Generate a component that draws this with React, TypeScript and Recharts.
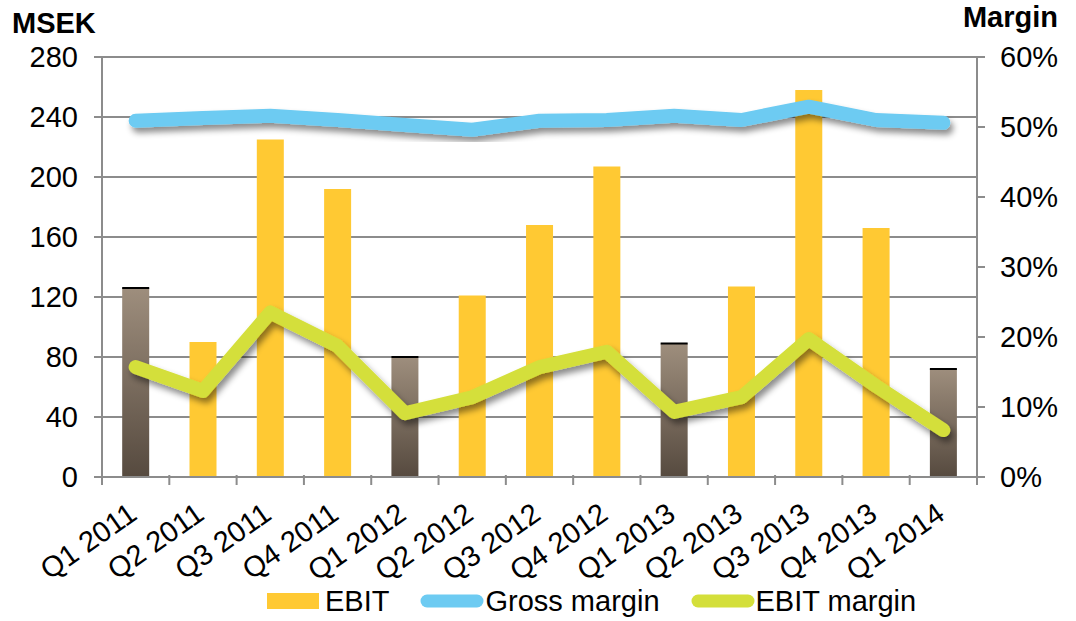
import React from 'react';
import { ComposedChart, Bar, Line, XAxis, YAxis, CartesianGrid, Legend } from 'recharts';

const categories = ['Q1 2011', 'Q2 2011', 'Q3 2011', 'Q4 2011', 'Q1 2012', 'Q2 2012', 'Q3 2012', 'Q4 2012', 'Q1 2013', 'Q2 2013', 'Q3 2013', 'Q4 2013', 'Q1 2014'];
const ebit = [126, 90, 225, 192, 80, 121, 168, 207, 89, 127, 258, 166, 72];
const grossMargin = [50.9, 51.3, 51.6, 51.0, 50.3, 49.6, 50.9, 51.0, 51.6, 51.0, 52.9, 51.0, 50.6];
const ebitMargin = [15.7, 12.3, 23.5, 18.7, 9.1, 11.4, 15.7, 17.9, 9.3, 11.4, 19.7, 13.0, 6.7];
const leftTicks = [0, 40, 80, 120, 160, 200, 240, 280];
const rightTicks = [0, 10, 20, 30, 40, 50, 60];

const data = categories.map((c, i) => ({
  quarter: c,
  ebit: ebit[i],
  gross: grossMargin[i],
  ebitMargin: ebitMargin[i],
}));

const W = 1076;
const H = 621;
const PLOT_LEFT = 102;
const PLOT_RIGHT = 977;
const BAND = (PLOT_RIGHT - PLOT_LEFT) / categories.length;
const FONT = '"Liberation Sans", Arial, Helvetica, sans-serif';
const FS = 29;
const YELLOW = '#FFC933';
const BLUE = '#6DCBF2';
const GREEN = '#D4DF3A';
const GRID = '#8C8C8C';

const XTick = (props: any) => {
  const { x, y, payload, index } = props;
  const axisY = y - 8;
  const isLast = index === categories.length - 1;
  return (
    <g>
      <line x1={x - BAND / 2} y1={axisY - 2} x2={x - BAND / 2} y2={axisY + 8} stroke={GRID} strokeWidth={2} />
      {isLast && <line x1={x + BAND / 2} y1={axisY - 2} x2={x + BAND / 2} y2={axisY + 8} stroke={GRID} strokeWidth={2} />}
      <g transform={`translate(${x + 3}, ${axisY + 41})`}>
        <text x={0} y={0} textAnchor="end" transform="rotate(-35)" fontSize={FS} fontFamily={FONT} fill="#000">
          {payload.value}
        </text>
      </g>
    </g>
  );
};

const BarShape = (props: any) => {
  const { x, y, width, height, payload } = props;
  const isQ1 = String(payload.quarter).startsWith('Q1');
  return (
    <g>
      <rect x={x} y={y} width={width} height={height} fill={isQ1 ? 'url(#brownGrad)' : YELLOW} />
      {isQ1 && <rect x={x} y={y - 1} width={width} height={2} fill="#000" />}
    </g>
  );
};

const LegendContent = () => {
  const items = [
    { label: 'EBIT', kind: 'bar', color: YELLOW },
    { label: 'Gross margin', kind: 'line', color: BLUE },
    { label: 'EBIT margin', kind: 'line', color: GREEN },
  ];
  return (
    <div style={{ display: 'flex', alignItems: 'center', height: 40, paddingLeft: 267, fontFamily: FONT, fontSize: FS, color: '#000' }}>
      {items.map((it, i) => (
        <div key={it.label} style={{ display: 'flex', alignItems: 'center', marginLeft: i === 0 ? 0 : 31 }}>
          <svg width={it.kind === 'bar' ? 52 : 64} height={20} style={{ marginRight: it.kind === 'bar' ? 6 : 1 }}>
            {it.kind === 'bar' ? (
              <rect x={0} y={2} width={52} height={16} fill={it.color} />
            ) : (
              <line x1={7} y1={10} x2={57} y2={10} stroke={it.color} strokeWidth={13} strokeLinecap="round" />
            )}
          </svg>
          <span style={{ lineHeight: '29px' }}>{it.label}</span>
        </div>
      ))}
    </div>
  );
};

export default function App() {
  return (
    <div style={{ position: 'absolute', left: 0, top: 0, width: W, height: H, background: '#fff' }}>
      <ComposedChart width={W} height={H} data={data} margin={{ top: 57, right: 0, bottom: 0, left: 0 }} barCategoryGap="30%">
        <defs>
          <linearGradient id="brownGrad" x1="0" y1="0" x2="0" y2="1">
            <stop offset="0%" stopColor="#9E8E7D" />
            <stop offset="100%" stopColor="#564A3F" />
          </linearGradient>
          <filter id="shadow" x="-10%" y="-50%" width="120%" height="200%">
            <feDropShadow dx="3" dy="5" stdDeviation="3" floodColor="#000" floodOpacity="0.45" />
          </filter>
        </defs>
        <CartesianGrid vertical={false} stroke={GRID} strokeWidth={2} yAxisId="left" />
        <XAxis
          dataKey="quarter"
          height={104}
          interval={0}
          tickLine={false}
          tickSize={8}
          tickMargin={0}
          axisLine={{ stroke: GRID, strokeWidth: 2 }}
          tick={<XTick />}
        />
        <YAxis
          yAxisId="left"
          orientation="left"
          width={PLOT_LEFT}
          domain={[0, 280]}
          ticks={leftTicks}
          interval={0}
          tickSize={8}
          tickMargin={16}
          axisLine={{ stroke: GRID, strokeWidth: 2 }}
          tickLine={{ stroke: GRID, strokeWidth: 2 }}
          tick={{ fontSize: FS, fontFamily: FONT, fill: '#000' }}
        />
        <YAxis
          yAxisId="right"
          orientation="right"
          width={W - PLOT_RIGHT}
          domain={[0, 60]}
          ticks={rightTicks}
          interval={0}
          tickSize={8}
          tickMargin={15}
          tickFormatter={(v: number) => `${v}%`}
          axisLine={{ stroke: GRID, strokeWidth: 2 }}
          tickLine={{ stroke: GRID, strokeWidth: 2 }}
          tick={{ fontSize: FS, fontFamily: FONT, fill: '#000' }}
        />
        <Legend verticalAlign="bottom" wrapperStyle={{ height: 40, left: 0, width: W }} content={<LegendContent />} />
        <Bar yAxisId="left" dataKey="ebit" name="EBIT" fill={YELLOW} shape={<BarShape />} isAnimationActive={false} />
        <Line
          yAxisId="right"
          dataKey="gross"
          name="Gross margin"
          stroke={BLUE}
          strokeWidth={14}
          strokeLinecap="round"
          strokeLinejoin="round"
          dot={false}
          activeDot={false}
          filter="url(#shadow)"
          type="linear"
          isAnimationActive={false}
        />
        <Line
          yAxisId="right"
          dataKey="ebitMargin"
          name="EBIT margin"
          stroke={GREEN}
          strokeWidth={14}
          strokeLinecap="round"
          strokeLinejoin="round"
          dot={false}
          activeDot={false}
          filter="url(#shadow)"
          type="linear"
          isAnimationActive={false}
        />
        <text x={12} y={33} fontSize={FS} fontWeight="bold" fontFamily={FONT} fill="#000">MSEK</text>
        <text x={1058} y={27} fontSize={FS} fontWeight="bold" fontFamily={FONT} fill="#000" textAnchor="end">Margin</text>
      </ComposedChart>
    </div>
  );
}
